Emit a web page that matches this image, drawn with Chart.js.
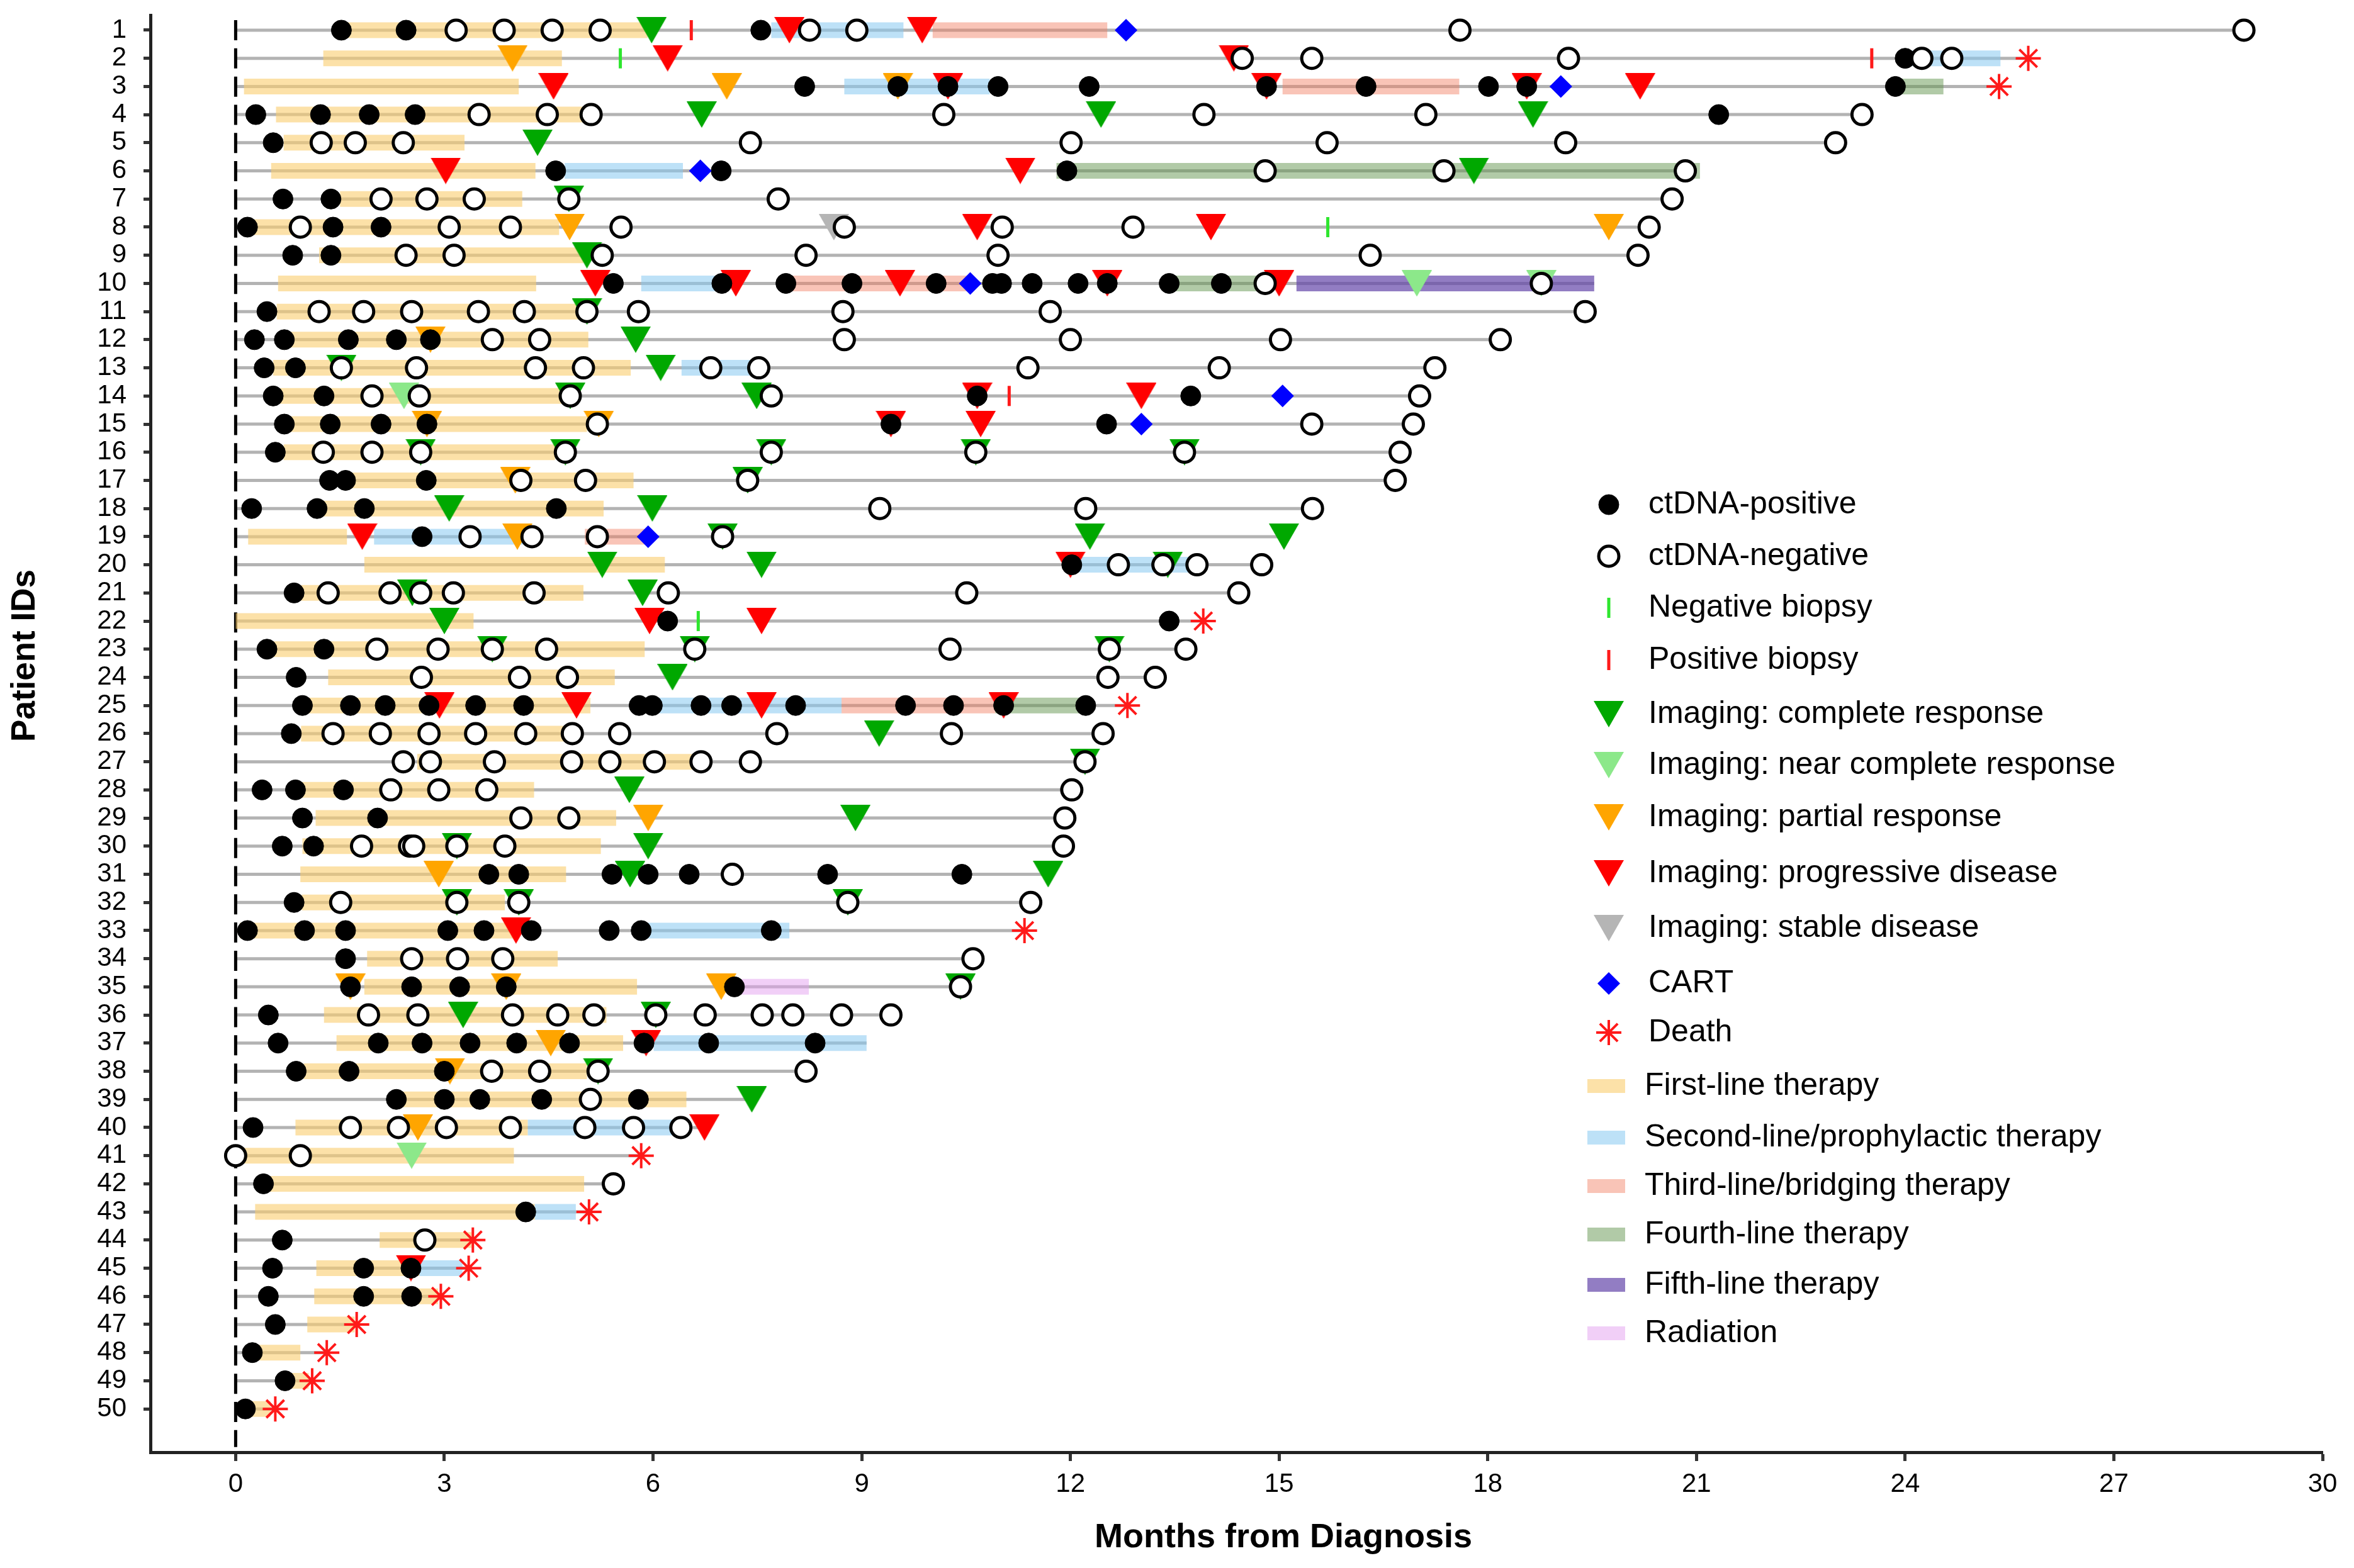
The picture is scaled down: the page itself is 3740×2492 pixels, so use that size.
<!DOCTYPE html>
<html>
<head>
<meta charset="utf-8">
<title>Swimmer plot</title>
<script src="https://cdn.jsdelivr.net/npm/chart.js@4.4.1/dist/chart.umd.min.js"></script>
<style>
  html, body { margin: 0; padding: 0; background: #ffffff; }
  #wrap { width: 3740px; height: 2492px; position: relative; }
</style>
</head>
<body>
<div id="wrap"><canvas id="swimmer"></canvas></div>
<script>
// Patient IDs (y tick labels) and x tick values
const patients = Array.from({ length: 50 }, (_, i) => i + 1);
const monthTicks = [0, 3, 6, 9, 12, 15, 18, 21, 24, 27, 30];

// End of follow-up (months) per patient 1..50
const followUp = [28.87, 25.77, 25.35, 23.38, 23.0, 20.9, 20.65, 20.32, 20.16, 19.53,
  19.4, 18.18, 17.24, 17.02, 16.93, 16.74, 16.67, 15.48, 15.07, 14.75,
  14.42, 13.91, 13.66, 13.22, 12.82, 12.47, 12.21, 12.02, 11.92, 11.9,
  11.68, 11.43, 11.34, 10.6, 10.42, 9.42, 9.07, 8.2, 7.42, 6.74,
  5.83, 5.43, 5.08, 3.41, 3.35, 2.95, 1.74, 1.31, 1.1, 0.57];

// ctDNA results: [patient, month]
const ctdnaPositive = [
  [1, 1.52], [1, 2.45], [1, 7.55], [2, 24.0],
  [3, 8.18], [3, 9.52], [3, 10.24], [3, 10.96], [3, 12.27], [3, 14.82], [3, 16.25], [3, 18.01], [3, 18.56], [3, 23.86],
  [4, 0.29], [4, 1.22], [4, 1.92], [4, 2.58], [4, 21.32], [5, 0.54],
  [6, 4.6], [6, 6.98], [6, 11.95], [7, 0.68], [7, 1.37], [8, 0.17], [8, 1.4], [8, 2.09], [9, 0.82], [9, 1.37],
  [10, 5.43], [10, 6.99], [10, 7.91], [10, 8.86], [10, 10.07], [10, 10.88], [10, 11.01], [10, 11.45], [10, 12.11], [10, 12.53], [10, 13.42], [10, 14.17],
  [11, 0.45], [12, 0.27], [12, 0.7], [12, 1.62], [12, 2.31], [12, 2.8], [13, 0.41], [13, 0.86],
  [14, 0.54], [14, 1.27], [14, 10.66], [14, 13.73],
  [15, 0.7], [15, 1.36], [15, 2.09], [15, 2.75], [15, 9.42], [15, 12.52], [16, 0.57],
  [17, 1.35], [17, 1.58], [17, 2.74], [18, 0.23], [18, 1.17], [18, 1.85], [18, 4.61],
  [19, 2.68], [20, 12.02], [21, 0.84], [22, 6.21], [22, 13.42], [23, 0.45], [23, 1.27], [24, 0.87],
  [25, 0.96], [25, 1.65], [25, 2.15], [25, 2.78], [25, 3.45], [25, 4.14], [25, 5.8], [25, 5.99], [25, 6.69], [25, 7.13], [25, 8.05], [25, 9.63], [25, 10.32], [25, 11.04], [25, 12.22],
  [26, 0.8], [28, 0.38], [28, 0.86], [28, 1.55], [29, 0.96], [29, 2.04], [30, 0.67], [30, 1.12],
  [31, 3.64], [31, 4.07], [31, 5.41], [31, 5.93], [31, 6.52], [31, 8.51], [31, 10.44], [32, 0.84],
  [33, 0.17], [33, 0.99], [33, 1.58], [33, 3.05], [33, 3.57], [33, 4.25], [33, 5.37], [33, 5.83], [33, 7.7],
  [34, 1.58], [35, 1.65], [35, 2.53], [35, 3.22], [35, 3.89], [35, 7.17], [36, 0.47],
  [37, 0.61], [37, 2.05], [37, 2.68], [37, 3.37], [37, 4.04], [37, 4.8], [37, 5.87], [37, 6.8], [37, 8.33],
  [38, 0.87], [38, 1.63], [38, 3.0], [39, 2.31], [39, 3.0], [39, 3.51], [39, 4.4], [39, 5.79], [40, 0.25],
  [42, 0.4], [43, 4.17], [44, 0.67], [45, 0.53], [45, 1.84], [45, 2.52], [46, 0.47], [46, 1.84], [46, 2.53],
  [47, 0.57], [48, 0.24], [49, 0.71], [50, 0.14]
];
const ctdnaNegative = [
  [1, 3.17], [1, 3.86], [1, 4.55], [1, 5.24], [1, 8.25], [1, 8.93], [1, 17.6], [1, 28.87],
  [2, 14.47], [2, 15.47], [2, 19.16], [2, 24.24], [2, 24.67],
  [4, 3.5], [4, 4.48], [4, 5.11], [4, 10.18], [4, 13.92], [4, 17.11], [4, 23.38],
  [5, 1.23], [5, 1.72], [5, 2.41], [5, 7.4], [5, 12.01], [5, 15.69], [5, 19.12], [5, 23.0],
  [6, 14.8], [6, 17.37], [6, 20.84], [7, 2.09], [7, 2.75], [7, 3.43], [7, 4.79], [7, 7.8], [7, 20.65],
  [8, 0.93], [8, 3.07], [8, 3.95], [8, 5.54], [8, 8.75], [8, 11.02], [8, 12.9], [8, 20.32],
  [9, 2.45], [9, 3.14], [9, 5.27], [9, 8.2], [9, 10.96], [9, 16.31], [9, 20.16], [10, 14.8], [10, 18.77],
  [11, 1.2], [11, 1.84], [11, 2.53], [11, 3.49], [11, 4.15], [11, 5.05], [11, 5.79], [11, 8.73], [11, 11.71], [11, 19.4],
  [12, 3.69], [12, 4.37], [12, 8.75], [12, 12.0], [12, 15.02], [12, 18.18],
  [13, 1.52], [13, 2.6], [13, 4.31], [13, 5.0], [13, 6.83], [13, 7.52], [13, 11.39], [13, 14.14], [13, 17.24],
  [14, 1.96], [14, 2.64], [14, 4.81], [14, 7.7], [14, 17.02], [15, 5.2], [15, 15.47], [15, 16.93],
  [16, 1.26], [16, 1.96], [16, 2.66], [16, 4.74], [16, 7.7], [16, 10.64], [16, 13.64], [16, 16.74],
  [17, 4.1], [17, 5.03], [17, 7.36], [17, 16.67], [18, 9.26], [18, 12.22], [18, 15.48],
  [19, 3.37], [19, 4.26], [19, 5.2], [19, 7.0], [20, 12.69], [20, 13.33], [20, 13.82], [20, 14.75],
  [21, 1.33], [21, 2.22], [21, 2.66], [21, 3.13], [21, 4.29], [21, 6.22], [21, 10.51], [21, 14.42],
  [23, 2.03], [23, 2.91], [23, 3.69], [23, 4.47], [23, 6.6], [23, 10.27], [23, 12.56], [23, 13.66],
  [24, 2.67], [24, 4.08], [24, 4.77], [24, 12.54], [24, 13.22],
  [26, 1.4], [26, 2.08], [26, 2.78], [26, 3.45], [26, 4.17], [26, 4.84], [26, 5.52], [26, 7.78], [26, 10.29], [26, 12.47],
  [27, 2.41], [27, 2.8], [27, 3.72], [27, 4.83], [27, 5.38], [27, 6.02], [27, 6.69], [27, 7.4], [27, 12.21],
  [28, 2.23], [28, 2.92], [28, 3.61], [28, 12.02], [29, 4.1], [29, 4.79], [29, 11.92],
  [30, 1.81], [30, 2.5], [30, 2.56], [30, 3.18], [30, 3.87], [30, 11.9], [31, 7.14],
  [32, 1.51], [32, 3.18], [32, 4.07], [32, 8.8], [32, 11.43], [34, 2.53], [34, 3.19], [34, 3.84], [34, 10.6], [35, 10.42],
  [36, 1.91], [36, 2.62], [36, 3.98], [36, 4.63], [36, 5.15], [36, 6.04], [36, 6.75], [36, 7.57], [36, 8.01], [36, 8.71], [36, 9.42],
  [38, 3.68], [38, 4.37], [38, 5.21], [38, 8.2], [39, 5.1],
  [40, 1.65], [40, 2.34], [40, 3.03], [40, 3.95], [40, 5.02], [40, 5.72], [40, 6.4],
  [41, 0.0], [41, 0.93], [42, 5.43], [44, 2.72]
];

// Biopsies: [patient, month]
const biopsyNegative = [[2, 5.53], [8, 15.7], [22, 6.65]];
const biopsyPositive = [[1, 6.55], [2, 23.52], [14, 11.12]];

// Imaging results: [patient, month]
const imagingCR = [
  [1, 5.98], [4, 6.7], [4, 12.44], [4, 18.65], [5, 4.34], [6, 17.8], [7, 4.79], [9, 5.05], [11, 5.05], [12, 5.75],
  [13, 1.52], [13, 6.11], [14, 4.81], [14, 7.49], [16, 2.66], [16, 4.74], [16, 7.7], [16, 10.64], [16, 13.64],
  [17, 7.36], [18, 3.07], [18, 5.99], [19, 7.0], [19, 12.28], [19, 15.07], [20, 5.27], [20, 7.56], [20, 13.4],
  [21, 2.54], [21, 5.85], [22, 3.0], [23, 3.69], [23, 6.6], [23, 12.56], [24, 6.28], [26, 9.25], [27, 12.21],
  [28, 5.66], [29, 8.91], [30, 3.18], [30, 5.93], [31, 5.67], [31, 11.68], [32, 3.18], [32, 4.07], [32, 8.8],
  [35, 10.42], [36, 3.27], [36, 6.04], [38, 5.21], [39, 7.42]
];
const imagingNCR = [[10, 16.98], [10, 18.77], [14, 2.42], [41, 2.53]];
const imagingPR = [
  [2, 3.98], [3, 7.06], [3, 9.52], [8, 4.8], [8, 19.74], [12, 2.8], [15, 2.75], [15, 5.22], [17, 4.02], [19, 4.05],
  [29, 5.93], [31, 2.92], [35, 1.65], [35, 3.89], [35, 6.98], [37, 4.53], [38, 3.08], [40, 2.62]
];
const imagingPD = [
  [1, 7.96], [1, 9.87], [2, 6.21], [2, 14.35], [3, 4.57], [3, 10.24], [3, 14.82], [3, 18.56], [3, 20.19],
  [6, 3.02], [6, 11.28], [8, 10.66], [8, 14.02], [10, 5.17], [10, 7.19], [10, 9.55], [10, 12.53], [10, 15.0],
  [14, 10.66], [14, 13.02], [15, 9.42], [15, 10.71], [19, 1.82], [20, 12.0], [22, 5.95], [22, 7.56],
  [25, 2.93], [25, 4.9], [25, 7.56], [25, 11.04], [33, 4.03], [37, 5.9], [40, 6.74], [45, 2.52]
];
const imagingSD = [[8, 8.6]];

// CAR-T infusion and death: [patient, month]
const cart = [[1, 12.8], [3, 19.05], [6, 6.68], [10, 10.56], [14, 15.05], [15, 13.02], [19, 5.93]];
const death = [[2, 25.77], [3, 25.35], [22, 13.91], [25, 12.82], [33, 11.34], [41, 5.83], [43, 5.08],
  [44, 3.41], [45, 3.35], [46, 2.95], [47, 1.74], [48, 1.31], [49, 1.1], [50, 0.57]];

// Therapy periods: [patient, start month, end month]
const firstLine = [
  [1, 1.6, 5.92], [2, 1.26, 4.69], [3, 0.12, 4.07], [4, 0.58, 5.21], [5, 0.69, 3.29], [6, 0.51, 4.31], [7, 1.5, 4.12],
  [8, 0.23, 4.65], [9, 1.2, 5.0], [10, 0.61, 4.32], [11, 0.59, 4.94], [12, 0.79, 5.07], [13, 0.54, 5.68], [14, 0.64, 4.79],
  [15, 0.79, 5.05], [16, 0.69, 4.59], [17, 1.6, 5.72], [18, 1.25, 5.29], [19, 0.18, 1.6], [20, 1.85, 6.17], [21, 0.94, 5.0],
  [22, 0.0, 3.42], [23, 0.54, 5.88], [24, 1.33, 5.45], [25, 1.04, 5.1], [26, 0.94, 4.74], [27, 2.61, 6.57], [28, 0.88, 4.29],
  [29, 1.15, 5.47], [30, 0.96, 5.25], [31, 0.93, 4.75], [32, 0.95, 3.87], [33, 0.06, 4.07], [34, 1.89, 4.63], [35, 1.85, 5.77],
  [36, 1.27, 5.33], [37, 1.45, 5.57], [38, 0.98, 5.05], [39, 2.39, 6.48], [40, 0.86, 4.2], [41, 0.0, 4.0], [42, 0.4, 5.01],
  [43, 0.28, 4.3], [44, 2.07, 3.39], [45, 1.16, 2.64], [46, 1.13, 2.91], [47, 1.03, 1.71], [48, 0.26, 0.93], [49, 0.71, 1.05],
  [50, 0.14, 0.5]
];
const secondLine = [[1, 7.7, 9.6], [2, 24.05, 25.37], [3, 8.75, 10.84], [6, 4.73, 6.43], [10, 5.83, 6.92], [13, 6.41, 7.63],
  [19, 1.99, 4.13], [20, 12.12, 13.81], [25, 6.0, 8.71], [33, 5.92, 7.96], [37, 6.01, 9.07], [40, 4.2, 6.39], [43, 4.3, 4.89],
  [45, 2.64, 3.26]];
const thirdLine = [[1, 10.02, 12.53], [3, 15.05, 17.59], [10, 8.0, 10.53], [19, 5.02, 5.88], [25, 8.71, 10.92]];
const fourthLine = [[3, 23.86, 24.55], [6, 11.8, 21.05], [10, 13.5, 14.8], [25, 10.92, 12.14]];
const fifthLine = [[10, 15.25, 19.53]];
const radiation = [[35, 7.25, 8.24]];

const FONT = '"Liberation Sans", Arial, Helvetica, sans-serif';

// Function to make a down-pointing triangle marker
function triangleImage(color) {
  const c = document.createElement('canvas');
  c.width = 48;
  c.height = 42;
  const g = c.getContext('2d');
  g.fillStyle = color;
  g.beginPath();
  g.moveTo(0, 0);
  g.lineTo(48, 0);
  g.lineTo(24, 42);
  g.closePath();
  g.fill();
  return c;
}

// marker styles, shared by datasets and legend
const styles = {
  pos: { pointStyle: 'circle', pointRadius: 16, pointBackgroundColor: '#000', pointBorderColor: '#000', pointBorderWidth: 1 },
  neg: { pointStyle: 'circle', pointRadius: 16, pointBackgroundColor: '#fff', pointBorderColor: '#000', pointBorderWidth: 5 },
  bioNeg: { pointStyle: 'line', pointRotation: 90, pointRadius: 16, pointBorderColor: '#2ee62e', pointBorderWidth: 5 },
  bioPos: { pointStyle: 'line', pointRotation: 90, pointRadius: 16, pointBorderColor: '#ff1a1a', pointBorderWidth: 5 },
  cr: { pointStyle: triangleImage('#00a800'), pointRadius: 21 },
  ncr: { pointStyle: triangleImage('#8ce88a'), pointRadius: 21 },
  pr: { pointStyle: triangleImage('#ffa500'), pointRadius: 21 },
  pd: { pointStyle: triangleImage('#ff0000'), pointRadius: 21 },
  sd: { pointStyle: triangleImage('#b5b5b5'), pointRadius: 21 },
  cart: { pointStyle: 'rectRot', pointRadius: 18, pointBackgroundColor: '#0000ff', pointBorderColor: '#0000ff', pointBorderWidth: 0 },
  death: { pointStyle: 'star', pointRadius: 20, pointBackgroundColor: '#ff1a1a', pointBorderColor: '#ff1a1a', pointBorderWidth: 4 }
};

const therapyColors = {
  first: 'rgba(250, 205, 110, 0.6)',
  second: 'rgba(135, 200, 240, 0.55)',
  third: 'rgba(242, 125, 95, 0.45)',
  fourth: 'rgba(100, 150, 80, 0.5)',
  fifth: 'rgba(100, 70, 170, 0.7)',
  radiation: 'rgba(228, 160, 240, 0.5)'
};

function points(list) {
  return list.map(p => ({ x: p[1], y: p[0] }));
}

// Function to turn [patient, start, end] into broken line segments
function segments(list) {
  const out = [];
  list.forEach(s => {
    out.push({ x: s[1], y: s[0] }, { x: s[2], y: s[0] }, { x: null, y: null });
  });
  return out;
}

function markerSet(label, list, style, order) {
  return Object.assign({ type: 'scatter', label: label, data: points(list), order: order, showLine: false }, style);
}

function barSet(label, list, color) {
  return {
    type: 'line', label: label, data: segments(list), order: 8, showLine: true, spanGaps: false,
    borderColor: color, borderWidth: 25, borderCapStyle: 'butt', pointRadius: 0, fill: false
  };
}

const yMin = 0.464;
const yMax = 51.54;
const rowPx = 2289 / (yMax - yMin);

const datasets = [
  markerSet('Death', death, styles.death, 1),
  markerSet('CART', cart, styles.cart, 2),
  markerSet('ctDNA-negative', ctdnaNegative, styles.neg, 3),
  markerSet('ctDNA-positive', ctdnaPositive, styles.pos, 3),
  markerSet('Negative biopsy', biopsyNegative, styles.bioNeg, 4),
  markerSet('Positive biopsy', biopsyPositive, styles.bioPos, 4),
  markerSet('Imaging: complete response', imagingCR, styles.cr, 5),
  markerSet('Imaging: near complete response', imagingNCR, styles.ncr, 5),
  markerSet('Imaging: partial response', imagingPR, styles.pr, 5),
  markerSet('Imaging: progressive disease', imagingPD, styles.pd, 5),
  markerSet('Imaging: stable disease', imagingSD, styles.sd, 5),
  barSet('Radiation', radiation, therapyColors.radiation),
  barSet('Fifth-line therapy', fifthLine, therapyColors.fifth),
  barSet('Fourth-line therapy', fourthLine, therapyColors.fourth),
  barSet('Third-line/bridging therapy', thirdLine, therapyColors.third),
  barSet('Second-line/prophylactic therapy', secondLine, therapyColors.second),
  barSet('First-line therapy', firstLine, therapyColors.first),
  {
    type: 'line', label: 'Diagnosis', order: 9, showLine: true, pointRadius: 0,
    data: [{ x: 0, y: patients[0] - 16 / rowPx }, { x: 0, y: patients[patients.length - 1] + 1 + 16 / rowPx }],
    borderColor: '#000', borderWidth: 5, borderDash: [32, rowPx - 32]
  },
  {
    type: 'line', label: 'Follow-up', order: 10, showLine: true, spanGaps: false, pointRadius: 0,
    data: segments(patients.map((p, i) => [p, 0, followUp[i]])),
    borderColor: '#b3b3b3', borderWidth: 5
  }
];

// legend entries drawn inside the plot
const legendMarkers = [
  ['ctDNA-positive', styles.pos], ['ctDNA-negative', styles.neg],
  ['Negative biopsy', styles.bioNeg], ['Positive biopsy', styles.bioPos],
  ['Imaging: complete response', styles.cr], ['Imaging: near complete response', styles.ncr],
  ['Imaging: partial response', styles.pr], ['Imaging: progressive disease', styles.pd],
  ['Imaging: stable disease', styles.sd], ['CART', styles.cart], ['Death', styles.death]
];
const legendBars = [
  ['First-line therapy', therapyColors.first], ['Second-line/prophylactic therapy', therapyColors.second],
  ['Third-line/bridging therapy', therapyColors.third], ['Fourth-line therapy', therapyColors.fourth],
  ['Fifth-line therapy', therapyColors.fifth], ['Radiation', therapyColors.radiation]
];
const legendY = [802, 884, 966, 1049, 1135, 1216, 1299, 1388, 1475, 1563, 1641, 1726, 1808, 1885, 1962, 2042, 2119];

// Function to draw the legend and the two axis titles
const insideLegend = {
  id: 'insideLegend',
  afterDraw(chart) {
    const ctx = chart.ctx;
    ctx.save();
    ctx.font = '50px ' + FONT;
    ctx.textBaseline = 'middle';
    ctx.textAlign = 'left';
    legendMarkers.forEach((item, i) => {
      const s = item[1];
      const y = legendY[i];
      ctx.fillStyle = s.pointBackgroundColor || '#000';
      ctx.strokeStyle = s.pointBorderColor || '#000';
      ctx.lineWidth = s.pointBorderWidth || 0;
      Chart.helpers.drawPoint(ctx, {
        pointStyle: s.pointStyle, radius: s.pointRadius, rotation: s.pointRotation || 0,
        borderWidth: s.pointBorderWidth || 0
      }, 2556, y);
      ctx.fillStyle = '#000';
      ctx.fillText(item[0], 2619, y);
    });
    legendBars.forEach((item, i) => {
      const y = legendY[legendMarkers.length + i];
      ctx.fillStyle = item[1];
      ctx.fillRect(2522, y - 11, 60, 22);
      ctx.fillStyle = '#000';
      ctx.fillText(item[0], 2613, y);
    });

    ctx.fillStyle = '#000';
    ctx.textAlign = 'center';
    ctx.font = 'bold 54px ' + FONT;
    ctx.fillText('Months from Diagnosis', 2039, 2444);
    ctx.translate(40, 1042);
    ctx.rotate(-Math.PI / 2);
    ctx.font = 'bold 53px ' + FONT;
    ctx.fillText('Patient IDs', 0, 0);
    ctx.restore();
  }
};

new Chart(document.getElementById('swimmer'), {
  type: 'scatter',
  data: { datasets: datasets },
  plugins: [insideLegend],
  options: {
    responsive: true,
    maintainAspectRatio: false,
    animation: false,
    events: [],
    layout: { padding: { top: 19, right: 50, left: 0, bottom: 0 } },
    plugins: { legend: { display: false }, tooltip: { enabled: false } },
    scales: {
      x: {
        type: 'linear', min: -1.225, max: 30,
        afterBuildTicks: s => { s.ticks = monthTicks.map(v => ({ value: v })); },
        afterFit: s => { s.height = 184; s.paddingLeft = 0; s.paddingRight = 0; },
        grid: { drawOnChartArea: false, drawTicks: true, tickLength: 14, tickWidth: 5, tickColor: '#333' },
        border: { display: true, color: '#222', width: 5 },
        ticks: { color: '#000', font: { family: FONT, size: 42 }, padding: 12, maxRotation: 0, autoSkip: false },
        title: { display: false }
      },
      y: {
        type: 'linear', reverse: true, min: yMin, max: yMax,
        afterBuildTicks: s => { s.ticks = patients.map(v => ({ value: v })); },
        afterFit: s => { s.width = 239; s.paddingTop = 0; s.paddingBottom = 0; },
        grid: { drawOnChartArea: false, drawTicks: true, tickLength: 11, tickWidth: 5, tickColor: '#333' },
        border: { display: true, color: '#222', width: 5 },
        ticks: { color: '#000', font: { family: FONT, size: 42, lineHeight: 1 }, padding: 27, autoSkip: false },
        title: { display: false }
      }
    }
  }
});
</script>
</body>
</html>
